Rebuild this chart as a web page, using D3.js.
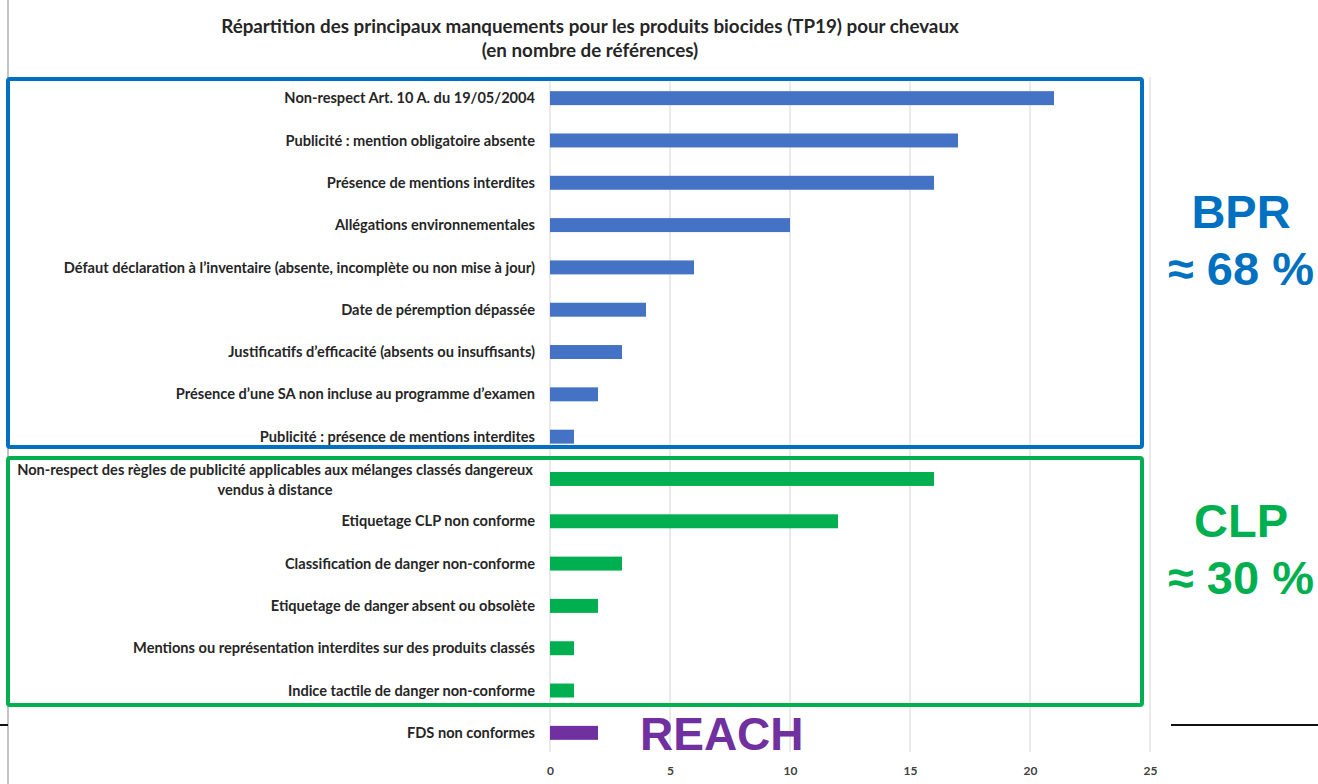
<!DOCTYPE html>
<html>
<head>
<meta charset="utf-8">
<title>Manquements TP19</title>
<style>
	body { margin: 0; background: #fff; }
	svg { display: block; }
</style>
</head>
<body>
<svg width="1318" height="784"></svg>
<script src="https://d3js.org/d3.v7.min.js"></script>
<script>
	// categories (top to bottom) and number of references
	var bprLabels = [
		"Non-respect Art. 10 A. du 19/05/2004",
		"Publicité : mention obligatoire absente",
		"Présence de mentions interdites",
		"Allégations environnementales",
		"Défaut déclaration à l’inventaire (absente, incomplète ou non mise à jour)",
		"Date de péremption dépassée",
		"Justificatifs d’efficacité (absents ou insuffisants)",
		"Présence d’une SA non incluse au programme d’examen",
		"Publicité : présence de mentions interdites"
	];
	var bprValues = [21, 17, 16, 10, 6, 4, 3, 2, 1];

	var clpLabels = [
		"Non-respect des règles de publicité applicables aux mélanges classés dangereux|vendus à distance",
		"Etiquetage CLP non conforme",
		"Classification de danger non-conforme",
		"Etiquetage de danger absent ou obsolète",
		"Mentions ou représentation interdites sur des produits classés",
		"Indice tactile de danger non-conforme"
	];
	var clpValues = [16, 12, 3, 2, 1, 1];

	var reachLabels = ["FDS non conformes"];
	var reachValues = [2];

	var xTicks = [0, 5, 10, 15, 20, 25];

	var titleLines = [
		"Répartition des principaux manquements pour les produits biocides (TP19) pour chevaux",
		"(en nombre de références)"
	];

	var colors = { BPR: "#4472C4", CLP: "#00B050", REACH: "#7030A0" };
	var boxColors = { BPR: "#0070C0", CLP: "#00B050" };

	var data = [];
	bprLabels.forEach(function(l, i) { data.push({ label: l, value: bprValues[i], group: "BPR" }); });
	clpLabels.forEach(function(l, i) { data.push({ label: l, value: clpValues[i], group: "CLP" }); });
	reachLabels.forEach(function(l, i) { data.push({ label: l, value: reachValues[i], group: "REACH" }); });

	var svg = d3.select("svg");

	var plotLeft = 550, plotRight = 1150, plotTop = 77, plotBottom = 754;

	var x = d3.scaleLinear()
		.domain([0, 25])
		.range([plotLeft, plotRight]);

	var y = d3.scaleBand()
		.domain(data.map(function(d, i) { return i; }))
		.range([plotTop, plotBottom])
		.paddingInner(0.67)
		.paddingOuter(0.335);

	// page border line on the left
	svg.append("line")
		.attr("x1", 8).attr("x2", 8)
		.attr("y1", 0).attr("y2", 784)
		.attr("stroke", "#c4c4c4")
		.attr("stroke-width", 2);

	// slide separator line
	svg.append("line")
		.attr("x1", 0).attr("x2", 8)
		.attr("y1", 725).attr("y2", 725)
		.attr("stroke", "#111").attr("stroke-width", 2);
	svg.append("line")
		.attr("x1", 1171).attr("x2", 1318)
		.attr("y1", 725).attr("y2", 725)
		.attr("stroke", "#111").attr("stroke-width", 2);

	// title
	svg.append("g")
		.selectAll("text")
		.data(titleLines)
		.enter().append("text")
		.attr("x", 590)
		.attr("y", function(d, i) { return 33 + i * 24; })
		.attr("text-anchor", "middle")
		.style("font-family", "Lato, 'Open Sans', sans-serif")
		.style("font-weight", "bold")
		.style("font-size", "18.8px")
		.style("fill", "#262626")
		.text(function(d) { return d; });

	// vertical grid lines
	svg.append("g")
		.selectAll("line")
		.data(xTicks)
		.enter().append("line")
		.attr("x1", function(d) { return x(d); })
		.attr("x2", function(d) { return x(d); })
		.attr("y1", plotTop)
		.attr("y2", plotBottom - 2)
		.attr("stroke", "#e3e3e3")
		.attr("stroke-width", 1.5);

	// x axis
	var xAxis = svg.append("g")
		.attr("transform", "translate(0," + (plotBottom + 12) + ")")
		.call(d3.axisBottom(x).tickValues(xTicks).tickSize(0).tickPadding(0));
	xAxis.select(".domain").remove();
	xAxis.selectAll("text")
		.style("font-family", "Lato, 'Open Sans', sans-serif")
		.style("font-weight", "bold")
		.style("font-size", "12px")
		.style("fill", "#404040");

	// bars
	svg.append("g")
		.selectAll("rect")
		.data(data)
		.enter().append("rect")
		.attr("x", x(0))
		.attr("y", function(d, i) { return y(i); })
		.attr("width", function(d) { return x(d.value) - x(0); })
		.attr("height", y.bandwidth())
		.attr("fill", function(d) { return colors[d.group]; });

	// category labels
	var labels = svg.append("g")
		.selectAll("text")
		.data(data)
		.enter().append("text")
		.attr("y", function(d, i) { return y(i) + y.bandwidth() / 2; })
		.style("font-family", "Lato, 'Open Sans', sans-serif")
		.style("font-weight", "bold")
		.style("font-size", "14.6px")
		.style("fill", "#262626");

	labels.each(function(d, i) {
		var parts = d.label.split("|");
		var t = d3.select(this);
		if (parts.length == 1) {
			t.attr("x", 535)
				.attr("text-anchor", "end")
				.attr("dy", "0.35em")
				.text(d.label);
		} else {
			t.attr("x", 275).attr("text-anchor", "middle");
			parts.forEach(function(p, k) {
				t.append("tspan")
					.attr("x", 275)
					.attr("y", y(i) + y.bandwidth() / 2 - 9 + k * 20)
					.attr("dy", "0.35em")
					.text(p);
			});
		}
	});

	// group boxes
	function groupBox(group, top, bottom) {
		svg.append("rect")
			.attr("x", 8)
			.attr("y", top)
			.attr("width", 1142 - 8)
			.attr("height", bottom - top)
			.attr("rx", 2)
			.attr("fill", "none")
			.attr("stroke", boxColors[group])
			.attr("stroke-width", 4);
	}
	groupBox("BPR", 79, 447);
	groupBox("CLP", 458, 705);

	// group annotations
	var notes = [
		{ lines: ["BPR", "≈ 68 %"], color: boxColors.BPR, y: 228 },
		{ lines: ["CLP", "≈ 30 %"], color: boxColors.CLP, y: 537 }
	];
	notes.forEach(function(n) {
		svg.append("g")
			.selectAll("text")
			.data(n.lines)
			.enter().append("text")
			.attr("x", 1241)
			.attr("y", function(d, i) { return n.y + i * 57; })
			.attr("text-anchor", "middle")
			.style("font-family", "'Liberation Sans', Arial, sans-serif")
			.style("font-weight", "bold")
			.style("font-size", "47px")
			.style("fill", n.color)
			.text(function(d) { return d; });
	});

	svg.append("text")
		.attr("x", 640)
		.attr("y", 750)
		.style("font-family", "'Liberation Sans', Arial, sans-serif")
		.style("font-weight", "bold")
		.style("font-size", "46px")
		.style("fill", colors.REACH)
		.text("REACH");
</script>
</body>
</html>
